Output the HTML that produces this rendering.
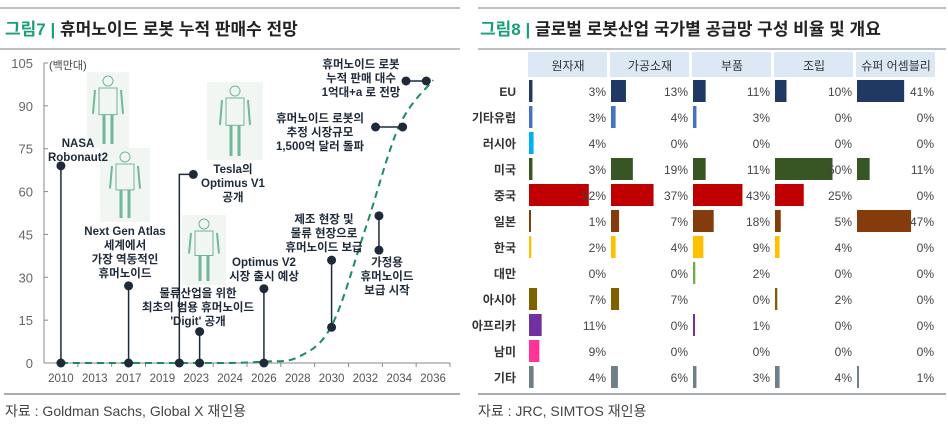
<!DOCTYPE html>
<html><head><meta charset="utf-8"><style>
body{margin:0;width:948px;height:428px;background:#fff;overflow:hidden;font-family:"Liberation Sans","Noto Sans CJK KR",sans-serif;}
svg text{font-family:"Liberation Sans","Noto Sans CJK KR",sans-serif;}
</style></head><body>
<svg id="s" width="948" height="428" xmlns="http://www.w3.org/2000/svg">
<line x1="0" y1="8" x2="460" y2="8" stroke="#a6acb0" stroke-width="1.5"/>
<line x1="478" y1="8" x2="946" y2="8" stroke="#a6acb0" stroke-width="1.5"/>
<line x1="0" y1="49" x2="460" y2="49" stroke="#a6acb0" stroke-width="1.5"/>
<line x1="478" y1="49" x2="946" y2="49" stroke="#a6acb0" stroke-width="1.5"/>
<line x1="4" y1="394" x2="460" y2="394" stroke="#a6acb0" stroke-width="2"/>
<line x1="478" y1="394" x2="946" y2="394" stroke="#a6acb0" stroke-width="2"/>
<text x="5" y="35" font-size="17" font-weight="bold" fill="#1a9e7a">그림7 <tspan fill="#1a9e7a">|</tspan> <tspan fill="#222">휴머노이드 로봇 누적 판매수 전망</tspan></text>
<text x="480" y="35" font-size="17" font-weight="bold" fill="#1a9e7a">그림8 <tspan>|</tspan> <tspan fill="#222">글로벌 로봇산업 국가별 공급망 구성 비율 및 개요</tspan></text>
<text x="5" y="416" font-size="14" fill="#444">자료 : Goldman Sachs, Global X 재인용</text>
<text x="478" y="416" font-size="14" fill="#444">자료 : JRC, SIMTOS 재인용</text>
<g id="left"></g><g id="right"></g>
</svg>
<script>
const NS="http://www.w3.org/2000/svg";
function mk(p,t,a){const e=document.createElementNS(NS,t);for(const k in a)e.setAttribute(k,a[k]);p.appendChild(e);return e;}
// ---- left chart data ----
const years=["2010","2013","2017","2019","2023","2024","2026","2028","2030","2032","2034","2036"];
const yTicks=[0,15,30,45,60,75,90,105];
const forecast=[0,0,0,0,0,0,0.5,2,13,47,83,99];
const evtIdx=[0,2,3.5,4.1,6,8,9.4];
const evtTop=[69,27,66,11,26,36,51.5];
const evtBot=[0,0,0,0,0,12.5,39.5];
const hlineStart=[9.3,10.2];
const hlineEnd=[10.1,10.8];
const hlineVal=[82.6,98.7];
const L=document.getElementById('left');
const x0=44,x1=450,yb=363,yt=63;
const X=i=>x0+(x1-x0)/years.length*(i+0.5);
const Y=v=>yb-(yb-yt)*v/105;
[[87,72,42,76],[100,148,50,74],[207,82,56,78],[182,215,44,70]].forEach((r,k)=>{
 const g=mk(L,'g',{});
 
 
 mk(g,'rect',{x:r[0],y:r[1],width:r[2],height:r[3],fill:'#f1f6f3'});
 const cx=r[0]+r[2]/2;
 mk(g,'circle',{cx:cx,cy:r[1]+9,r:5,fill:'none',stroke:'#6fb89a','stroke-width':1});
 mk(g,'rect',{x:cx-9,y:r[1]+16,width:18,height:r[3]*0.35,fill:'none',stroke:'#6fb89a','stroke-width':1});
 mk(g,'line',{x1:cx-4,y1:r[1]+16+r[3]*0.35,x2:cx-4,y2:r[1]+r[3]-4,stroke:'#6fb89a','stroke-width':3});
 mk(g,'line',{x1:cx+4,y1:r[1]+16+r[3]*0.35,x2:cx+4,y2:r[1]+r[3]-4,stroke:'#6fb89a','stroke-width':3});
 mk(g,'line',{x1:cx-13,y1:r[1]+18,x2:cx-15,y2:r[1]+r[3]*0.55,stroke:'#6fb89a','stroke-width':2});
 mk(g,'line',{x1:cx+13,y1:r[1]+18,x2:cx+15,y2:r[1]+r[3]*0.55,stroke:'#6fb89a','stroke-width':2});
});
mk(L,'line',{x1:x0,y1:yt,x2:x0,y2:yb,stroke:'#888'});
mk(L,'line',{x1:x0,y1:yb,x2:x1,y2:yb,stroke:'#888'});
yTicks.forEach(v=>{
 mk(L,'line',{x1:x0,y1:Y(v),x2:x0+4,y2:Y(v),stroke:'#888'});
 const t=mk(L,'text',{x:33,y:Y(v)+5,'text-anchor':'end','font-size':13,fill:'#666'});
 
 
 t.textContent=v;
});
const u=mk(L,'text',{x:49,y:Y(105)+6,'font-size':11,fill:'#444'});u.textContent='(백만대)';


years.forEach((y,i)=>{
 mk(L,'line',{x1:x0+(x1-x0)/years.length*(i+1),y1:yb,x2:x0+(x1-x0)/years.length*(i+1),y2:yb+4,stroke:'#888'});
 const t=mk(L,'text',{x:X(i),y:382,'text-anchor':'middle','font-size':11.5,fill:'#555'});
 
 
 t.textContent=y;
});
// smooth (Catmull-Rom) forecast path
const pts=forecast.map((v,i)=>[X(i),Y(v)]);
let d='M'+pts[0][0]+' '+pts[0][1];
for(let i=0;i<pts.length-1;i++){
 const p0=pts[Math.max(0,i-1)],p1=pts[i],p2=pts[i+1],p3=pts[Math.min(pts.length-1,i+2)];
 let c1y=p1[1]+(p2[1]-p0[1])/6,c2y=p2[1]-(p3[1]-p1[1])/6;
 c1y=Math.min(c1y,yb);c2y=Math.min(c2y,yb);
 d+=`C${p1[0]+(p2[0]-p0[0])/6} ${c1y} ${p2[0]-(p3[0]-p1[0])/6} ${c2y} ${p2[0]} ${p2[1]}`;
}
const fp=mk(L,'path',{d:d,fill:'none',stroke:'#1f8a5e','stroke-width':2,'stroke-dasharray':'7 5'});


evtIdx.forEach((ix,k)=>{
 const g=mk(L,'g',{});
 
 
 const x=X(ix);
 if(k===2){mk(g,'path',{d:`M${x} ${Y(evtBot[k])}V${Y(evtTop[k])}H${x+14}`,fill:'none',stroke:'#1e2a3a','stroke-width':1.5});
  mk(g,'circle',{cx:x+14,cy:Y(evtTop[k]),r:4.5,fill:'#1e2a3a'});}
 else{mk(g,'line',{x1:x,y1:Y(evtBot[k]),x2:x,y2:Y(evtTop[k]),stroke:'#1e2a3a','stroke-width':1.5});
  mk(g,'circle',{cx:x,cy:Y(evtTop[k]),r:4.5,fill:'#1e2a3a'});}
 mk(g,'circle',{cx:x,cy:Y(evtBot[k]),r:4.5,fill:'#1e2a3a'});
});
hlineVal.forEach((v,k)=>{
 const g=mk(L,'g',{});
 
 
 mk(g,'line',{x1:X(hlineStart[k]),y1:Y(v),x2:X(hlineEnd[k]),y2:Y(v),stroke:'#1e2a3a','stroke-width':1.5});
 mk(g,'circle',{cx:X(hlineStart[k]),cy:Y(v),r:4.5,fill:'#1e2a3a'});
 mk(g,'circle',{cx:X(hlineEnd[k]),cy:Y(v),r:4.5,fill:'#1e2a3a'});
});
const notes=[[78,[["NASA",147],["Robonaut2",161]]],[125,[["Next Gen Atlas",235],["세계에서",249],["가장 역동적인",263],["휴머노이드",277]]],
[233,[["Tesla의",173],["Optimus V1",187],["공개",201]]],[198,[["물류산업을 위한",297],["최초의 범용 휴머노이드",311],["'Digit' 공개",325]]],
[264,[["Optimus V2",266],["시장 출시 예상",280]]],[324,[["제조 현장 및",223],["물류 현장으로",237],["휴머노이드 보급",251]]],
[387,[["가정용",266],["휴머노이드",280],["보급 시작",294]]],[320,[["휴머노이드 로봇의",122],["추정 시장규모",136],["1,500억 달러 돌파",150]]],
[361,[["휴머노이드 로봇",68],["누적 판매 대수",82],["1억대+a 로 전망",96]]]];
notes.forEach(n=>{const t=mk(L,'text',{'text-anchor':'middle','font-size':11.5,'font-weight':'bold',fill:'#1e2a3a'});
 
 
 n[1].forEach(l=>{const s=mk(t,'tspan',{x:n[0],y:l[1]});s.textContent=l[0];});});
// ---- right table data ----
const cols=["원자재","가공소재","부품","조립","슈퍼 어셈블리"];
const rows=["EU","기타유럽","러시아","미국","중국","일본","한국","대만","아시아","아프리카","남미","기타"];
const rowColors=["#1f3864","#4472c4","#00b0f0","#375623","#c00000","#843c0c","#ffc000","#70ad47","#7f6000","#7030a0","#ff3399","#6f7f8a"];
const v0=[3,3,4,3,52,1,2,0,7,11,9,4];
const v1=[13,4,0,19,37,7,4,0,7,0,0,6];
const v2=[11,3,0,11,43,18,9,2,0,1,0,3];
const v3=[10,0,0,50,25,5,4,0,2,0,0,4];
const v4=[41,0,0,11,0,47,0,0,0,0,0,1];
const R=document.getElementById('right');
const colX=[528,610,692,774,856],colW=[80,80,80,80,80];
const vals=[v0,v1,v2,v3,v4];
cols.forEach((c,j)=>{
 const h=mk(R,'rect',{x:colX[j],y:52,width:colW[j]-1,height:25,fill:'#dce9f5'});
 
 
 const t=mk(R,'text',{x:colX[j]+colW[j]/2,y:70,'text-anchor':'middle','font-size':12,fill:'#333'});t.textContent=c;
});
rows.forEach((r,i)=>{
 const cy=91+i*26;
 const t=mk(R,'text',{x:516,y:cy+5,'text-anchor':'end','font-size':12,'font-weight':'bold',fill:'#333'});
 
 
 t.textContent=r;
 vals.forEach((vs,j)=>{
  const v=vs[i];
  if(v>0){const b=mk(R,'rect',{x:colX[j]+1,y:cy-11,width:Math.max(2,v*1.15),height:22,fill:rowColors[i]});
   
   }
  const p=mk(R,'text',{x:colX[j]+colW[j]-2,y:cy+5,'text-anchor':'end','font-size':12,fill:'#444'});
  
  
  p.textContent=v+'%';
 });
});
</script>
</body></html>
